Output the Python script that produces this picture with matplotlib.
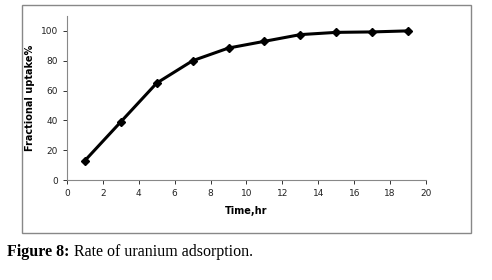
import matplotlib
matplotlib.use("Agg")
import matplotlib.pyplot as plt
from matplotlib.patches import Rectangle

# Uptake data
time_hr = [1, 3, 5, 7, 9, 11, 13, 15, 17, 19]
uptake_pct = [13, 39, 65, 80, 88.5, 93, 97.5, 99, 99.3, 100]
x_ticks = [0, 2, 4, 6, 8, 10, 12, 14, 16, 18, 20]
y_ticks = [0, 20, 40, 60, 80, 100]

fig = plt.figure(figsize=(4.92, 2.80), dpi=100)
fig.patch.set_facecolor("white")

# grey frame around the chart area
fig.add_artist(Rectangle((0.045, 0.168), 0.912, 0.814, transform=fig.transFigure,
                         fill=False, edgecolor="#888888", linewidth=1.0))

ax = fig.add_axes([0.136, 0.357, 0.730, 0.586])
ax.plot(time_hr, uptake_pct, color="black", linewidth=2.2,
        marker="D", markersize=4.5, markerfacecolor="black")

ax.set_xlim(0, 20)
ax.set_ylim(0, 110)
ax.set_xticks(x_ticks)
ax.set_yticks(y_ticks)
ax.tick_params(labelsize=6.5, length=3, width=0.7, colors="#333333", labelcolor="#222222")
for s in ["top", "right"]:
    ax.spines[s].set_visible(False)
for s in ["left", "bottom"]:
    ax.spines[s].set_color("#888888")
    ax.spines[s].set_linewidth(0.8)

ax.set_xlabel("Time,hr", fontsize=7, fontweight="bold", labelpad=6)
ax.set_ylabel("Fractional uptake%", fontsize=7, fontweight="bold", labelpad=4)

fig.text(0.014, 0.1, "Figure 8:", fontsize=11.5, fontweight="bold",
         family="Liberation Serif", va="center")
fig.text(0.150, 0.1, "Rate of uranium adsorption.", fontsize=11.5,
         family="Liberation Serif", va="center")

fig.savefig("out.png", dpi=100)
